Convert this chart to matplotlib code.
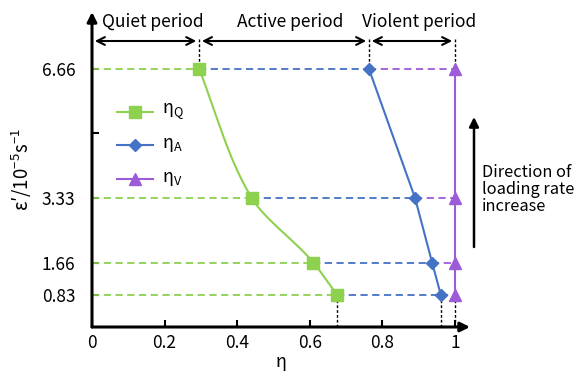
import numpy as np
import matplotlib
matplotlib.use('Agg')
import matplotlib.pyplot as plt

plt.rcParams['font.family'] = ['Noto Sans CJK SC', 'DejaVu Sans']
plt.rcParams['mathtext.default'] = 'regular'

# 加载速率 (10^-5 s^-1)
rates = [6.66, 3.33, 1.66, 0.83]
eta_q = [0.295, 0.44, 0.61, 0.675]
eta_a = [0.763, 0.89, 0.937, 0.961]
eta_v = [1.0, 1.0, 1.0, 1.0]

y_ticks = [0.83, 1.66, 3.33, 5, 6.66]
y_tick_labels = ['0.83', '1.66', '3.33', '', '6.66']
x_ticks = [0, 0.2, 0.4, 0.6, 0.8, 1]
x_tick_labels = ['0', '0.2', '0.4', '0.6', '0.8', '1']
periods = ['Quiet period', 'Active period', 'Violent period']

green = '#8ed14f'
blue = '#4472c4'
purple = '#9e5bd8'


def pchip(xk, yk, xs):
    # 单调三次插值 (Fritsch-Carlson)
    xk = np.asarray(xk, float)
    yk = np.asarray(yk, float)
    h = np.diff(xk)
    d = np.diff(yk) / h
    m = np.zeros_like(yk)
    m[0], m[-1] = d[0], d[-1]
    for i in range(1, len(xk) - 1):
        if d[i - 1] * d[i] > 0:
            w1 = 2 * h[i] + h[i - 1]
            w2 = h[i] + 2 * h[i - 1]
            m[i] = (w1 + w2) / (w1 / d[i - 1] + w2 / d[i])
    out = np.empty_like(xs)
    for j, x in enumerate(xs):
        i = min(np.searchsorted(xk, x, side='right') - 1, len(xk) - 2)
        t = (x - xk[i]) / h[i]
        h00 = 2 * t ** 3 - 3 * t ** 2 + 1
        h10 = t ** 3 - 2 * t ** 2 + t
        h01 = -2 * t ** 3 + 3 * t ** 2
        h11 = t ** 3 - t ** 2
        out[j] = h00 * yk[i] + h10 * h[i] * m[i] + h01 * yk[i + 1] + h11 * h[i] * m[i + 1]
    return out


fig = plt.figure(figsize=(5.85, 3.77), dpi=100)
W, H = 585, 377
x0, x1, y_top, y_bot = 92, 470, 12, 327
ax = fig.add_axes([x0 / W, (H - y_bot) / H, (x1 - x0) / W, (y_bot - y_top) / H])
xmax = (x1 - x0) / 363.0
ymax = (y_bot - y_top) / 38.74
ax.set_xlim(0, xmax)
ax.set_ylim(0, ymax)
for s in ax.spines.values():
    s.set_visible(False)

# 坐标轴箭头
ax.annotate('', xy=(xmax, 0), xytext=(0, 0), annotation_clip=False,
            arrowprops=dict(arrowstyle='-|>', color='black', lw=2.2, shrinkA=0, shrinkB=0,
                            mutation_scale=14))
ax.annotate('', xy=(0, ymax), xytext=(0, 0), annotation_clip=False,
            arrowprops=dict(arrowstyle='-|>', color='black', lw=2.2, shrinkA=0, shrinkB=0,
                            mutation_scale=14))

ax.set_xticks(x_ticks)
ax.set_xticklabels(x_tick_labels)
ax.set_yticks(y_ticks)
ax.set_yticklabels(y_tick_labels)
ax.tick_params(direction='in', length=5, width=1.5, labelsize=12.5)
ax.tick_params(axis='x', pad=5)
ax.tick_params(axis='y', pad=12)
ax.set_xlabel('η', fontsize=13, labelpad=1)
ax.set_ylabel("ε′/10$^{-5}$s$^{-1}$", fontsize=13.5)
ax.yaxis.set_label_coords((34 - x0) / (x1 - x0), 0.5)

# 水平虚线
for r, q, a, v in zip(rates, eta_q, eta_a, eta_v):
    ax.plot([0, q], [r, r], ls='--', color=green, lw=1.3, dashes=(4, 2.5), zorder=2)
    ax.plot([q, a], [r, r], ls='--', color=blue, lw=1.3, dashes=(4, 2.5), zorder=2)
    ax.plot([a, v], [r, r], ls='--', color=purple, lw=1.3, dashes=(4, 2.5), zorder=2)

# ηQ 平滑曲线
yy = np.linspace(min(rates), max(rates), 200)
ax.plot(pchip(rates[::-1], eta_q[::-1], yy), yy, color=green, lw=1.5, zorder=3)
ax.plot(eta_q, rates, ls='none', marker='s', ms=8, color=green, zorder=4)
ax.plot(eta_a, rates, marker='D', ms=6, color=blue, lw=1.5, zorder=4)
ax.plot(eta_v, rates, marker='^', ms=8, color=purple, lw=1.5, zorder=4)

# 分段箭头
y_arrow = (y_bot - 41) / 38.74
bounds = [0, eta_q[0], eta_a[0], eta_v[0]]
text_x = [0.168, 0.545, 0.9]
for i in range(3):
    ax.annotate('', xy=(bounds[i + 1], y_arrow), xytext=(bounds[i], y_arrow), annotation_clip=False,
                arrowprops=dict(arrowstyle='<->', color='black', lw=1.5, shrinkA=2, shrinkB=2,
                                mutation_scale=14))
    ax.text(text_x[i], (y_bot - 22) / 38.74, periods[i], ha='center', va='center', fontsize=12.5,
            clip_on=False)
for b in bounds[1:]:
    ax.plot([b, b], [y_arrow + 0.05, rates[0]], color='black', ls=(0, (2, 1.5)), lw=1, zorder=1,
            clip_on=False)

# 底部竖线
for b in [eta_q[-1], eta_a[-1], eta_v[-1]]:
    ax.plot([b, b], [0, rates[-1]], color='black', ls=(0, (2, 1.5)), lw=1, zorder=1)

# 图例
leg_y = [(y_bot - 112) / 38.74, (y_bot - 145) / 38.74, (y_bot - 179) / 38.74]
leg_x = [(117 - x0) / 363.0, (153 - x0) / 363.0]
leg_items = [('s', 8, green, 'η$_Q$'), ('D', 6, blue, 'η$_A$'), ('^', 8, purple, 'η$_V$')]
for ly, (m, ms, c, lab) in zip(leg_y, leg_items):
    ax.plot(leg_x, [ly, ly], color=c, lw=1.5)
    ax.plot([sum(leg_x) / 2], [ly], marker=m, ms=ms, color=c)
    ax.text((162 - x0) / 363.0, ly, lab, fontsize=13, va='center')

# 加载速率方向箭头
ax_x = (474 - x0) / 363.0
ax.annotate('', xy=(ax_x, (y_bot - 117) / 38.74), xytext=(ax_x, (y_bot - 247) / 38.74),
            annotation_clip=False,
            arrowprops=dict(arrowstyle='-|>', color='black', lw=1.8, shrinkA=0, shrinkB=0,
                            mutation_scale=14))
ax.text((482 - x0) / 363.0, (y_bot - 190) / 38.74, 'Direction of\nloading rate\nincrease',
        fontsize=11.8, va='center', ha='left', linespacing=1.0, clip_on=False)

fig.savefig('out.png', dpi=100)
